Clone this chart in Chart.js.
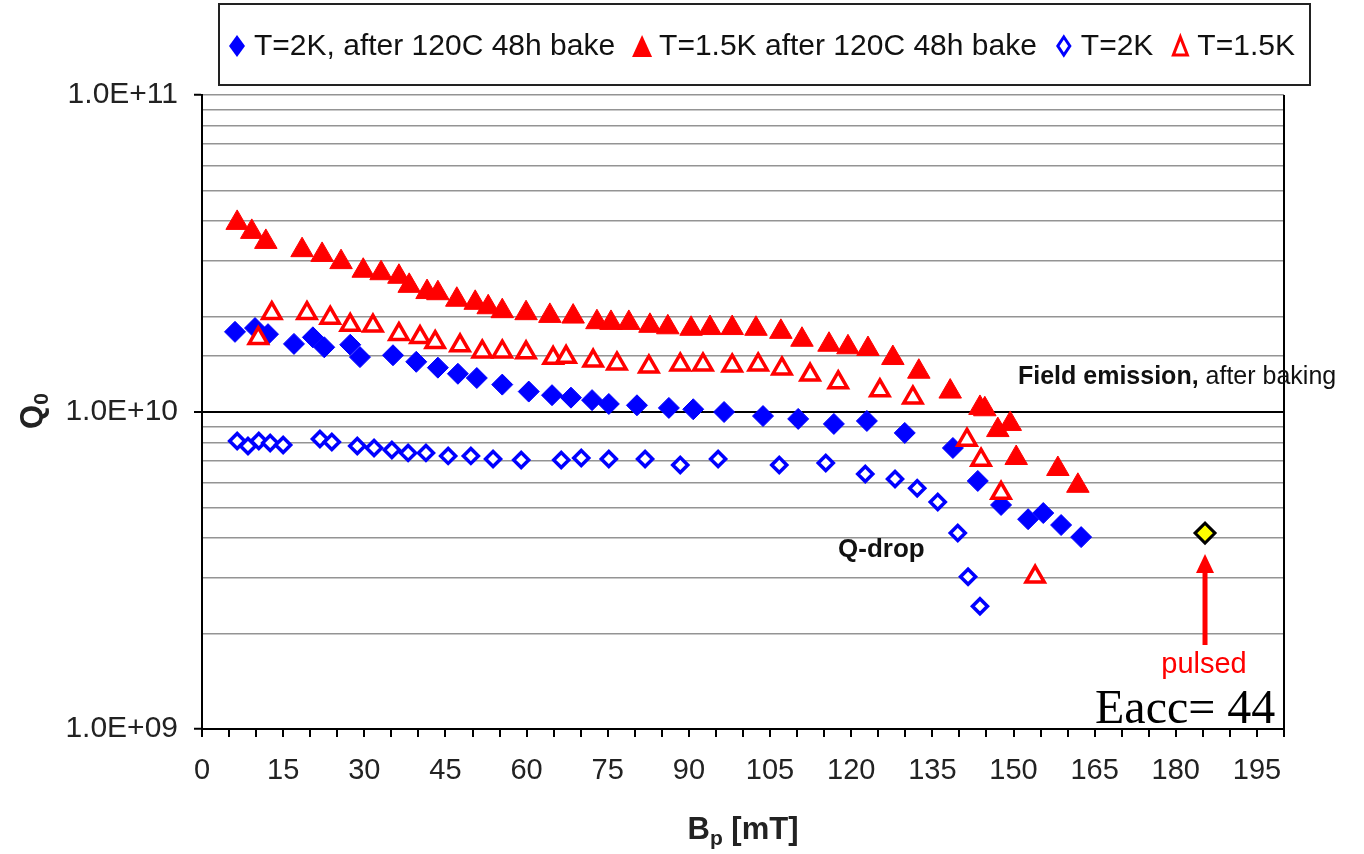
<!DOCTYPE html>
<html>
<head>
<meta charset="utf-8">
<script src="https://cdn.jsdelivr.net/npm/chart.js@4"></script>
<style>
    html, body { margin: 0; padding: 0; background: #fff; }
</style>
</head>
<body>
<canvas id="q0chart" width="1364" height="854"></canvas>
<script>
const seriesLabels = [
    "T=2K, after 120C 48h bake",
    "T=1.5K after 120C 48h bake",
    "T=2K",
    "T=1.5K",
];

// T=2K after bake (filled diamonds)
const bakedT2B = [6.1, 9.8, 12.2, 17.0, 20.5, 22.6, 27.4, 29.2, 35.3, 39.6, 43.6, 47.3, 50.8, 55.5, 60.4, 64.7, 68.2, 72.1,
    75.2, 80.4, 86.3, 90.8, 96.5, 103.7, 110.2, 116.8, 122.9, 129.9, 138.8, 143.4, 147.7, 152.7, 155.5, 158.8, 162.5];
const bakedT2Q = [1.79e10, 1.84e10, 1.76e10, 1.64e10, 1.72e10, 1.60e10, 1.63e10, 1.49e10, 1.51e10, 1.44e10, 1.38e10, 1.32e10,
    1.28e10, 1.22e10, 1.16e10, 1.13e10, 1.11e10, 1.09e10, 1.06e10, 1.05e10, 1.03e10, 1.02e10, 1.00e10, 9.71e9, 9.51e9,
    9.17e9, 9.37e9, 8.59e9, 7.70e9, 6.06e9, 5.09e9, 4.59e9, 4.80e9, 4.40e9, 4.03e9];

// T=1.5K after bake (filled triangles)
const bakedT15B = [6.5, 9.2, 11.8, 18.5, 22.2, 25.7, 29.8, 33.1, 36.4, 38.3, 41.6, 43.6, 47.1, 50.5, 52.9, 55.5, 59.9, 64.3,
    68.6, 73.0, 75.6, 78.9, 82.8, 86.1, 90.4, 93.9, 98.0, 102.4, 107.0, 110.9, 115.9, 119.4, 123.1, 127.7, 132.5, 138.3,
    143.8, 144.7, 147.1, 149.4, 150.5, 158.2, 161.9];
const bakedT15Q = [3.95e10, 3.70e10, 3.44e10, 3.24e10, 3.13e10, 2.97e10, 2.79e10, 2.74e10, 2.67e10, 2.50e10, 2.39e10,
    2.37e10, 2.26e10, 2.21e10, 2.14e10, 2.08e10, 2.05e10, 2.01e10, 2.00e10, 1.92e10, 1.91e10, 1.91e10, 1.87e10, 1.85e10,
    1.83e10, 1.84e10, 1.84e10, 1.83e10, 1.79e10, 1.69e10, 1.63e10, 1.60e10, 1.58e10, 1.48e10, 1.34e10, 1.16e10, 1.03e10,
    1.02e10, 8.77e9, 9.17e9, 7.16e9, 6.61e9, 5.85e9];

// T=2K before bake (open diamonds)
const plainT2B = [6.5, 8.5, 10.5, 12.6, 15.0, 21.8, 24.0, 28.7, 31.8, 35.1, 38.1, 41.4, 45.5, 49.7, 53.8, 59.0, 66.4, 70.1,
    75.2, 81.9, 88.4, 95.4, 106.7, 115.3, 122.6, 128.1, 132.2, 136.0, 139.7, 141.6, 143.8];
const plainT2Q = [8.10e9, 7.81e9, 8.10e9, 7.98e9, 7.87e9, 8.22e9, 8.04e9, 7.81e9, 7.70e9, 7.59e9, 7.43e9, 7.43e9, 7.27e9,
    7.27e9, 7.11e9, 7.06e9, 7.06e9, 7.16e9, 7.11e9, 7.11e9, 6.80e9, 7.11e9, 6.80e9, 6.90e9, 6.37e9, 6.15e9, 5.75e9, 5.20e9,
    4.15e9, 3.02e9, 2.44e9];

// T=1.5K before bake (open triangles)
const plainT15B = [10.4, 12.9, 19.4, 23.7, 27.4, 31.6, 36.4, 40.3, 43.1, 47.7, 51.8, 55.5, 59.9, 64.9, 67.3, 72.3, 76.7,
    82.6, 88.4, 92.6, 98.0, 102.8, 107.2, 112.4, 117.6, 125.3, 131.4, 141.4, 144.0, 147.7, 154.0];
const plainT15Q = [1.71e10, 2.05e10, 2.05e10, 1.98e10, 1.88e10, 1.87e10, 1.76e10, 1.72e10, 1.66e10, 1.62e10, 1.55e10,
    1.55e10, 1.54e10, 1.48e10, 1.49e10, 1.45e10, 1.42e10, 1.39e10, 1.41e10, 1.41e10, 1.40e10, 1.41e10, 1.37e10, 1.31e10,
    1.24e10, 1.17e10, 1.11e10, 8.16e9, 7.06e9, 5.55e9, 3.02e9];

// pulsed measurement
const pulsedB = [185.4];
const pulsedQ = [4.15e9];

const xTickLabels = [0, 15, 30, 45, 60, 75, 90, 105, 120, 135, 150, 165, 180, 195];
const yTickLabels = ["1.0E+09", "1.0E+10", "1.0E+11"];

const BLUE = "#0000ff";
const RED = "#ff0000";

function pts(xs, ys) {
    return xs.map((x, i) => ({ x: x, y: ys[i] }));
}

function isDecade(v) {
    const e = Math.round(Math.log10(v));
    return Math.abs(v - Math.pow(10, e)) < v * 1e-6;
}

// legend, titles and notes drawn on top
const extras = {
    id: "extras",
    afterDraw(chart) {
        const ctx = chart.ctx;
        const area = chart.chartArea;
        const xs = chart.scales.x;
        ctx.save();

        // plot right border
        ctx.strokeStyle = "#000";
        ctx.lineWidth = 2;
        ctx.beginPath();
        ctx.moveTo(area.right, area.top);
        ctx.lineTo(area.right, area.bottom);
        ctx.stroke();

        // legend box
        ctx.lineWidth = 2;
        ctx.strokeStyle = "#222";
        ctx.strokeRect(219, 4, 1091, 81);
        ctx.font = "30px 'Liberation Sans', Arial, sans-serif";
        ctx.textBaseline = "middle";
        const ly = 46;
        const markers = ["diamond", "triangle", "odiamond", "otriangle"];
        let mx = 237;
        seriesLabels.forEach((lab, i) => {
            drawLegendMarker(ctx, markers[i], mx, ly);
            ctx.fillStyle = "#111";
            ctx.textAlign = "left";
            ctx.fillText(lab, mx + 17, ly + 1);
            mx = mx + 17 + ctx.measureText(lab).width + 27;
        });

        // axis titles
        ctx.fillStyle = "#222";
        ctx.textBaseline = "alphabetic";
        ctx.font = "bold 31px 'Liberation Sans', Arial, sans-serif";
        const bW = ctx.measureText("B").width;
        const restW = ctx.measureText(" [mT]").width;
        ctx.font = "bold 21px 'Liberation Sans', Arial, sans-serif";
        const pW = ctx.measureText("p").width;
        const tx = (area.left + area.right) / 2 - (bW + pW + restW) / 2;
        const tyB = 839;
        ctx.textAlign = "left";
        ctx.font = "bold 31px 'Liberation Sans', Arial, sans-serif";
        ctx.fillText("B", tx, tyB);
        ctx.font = "bold 21px 'Liberation Sans', Arial, sans-serif";
        ctx.fillText("p", tx + bW, tyB + 6);
        ctx.font = "bold 31px 'Liberation Sans', Arial, sans-serif";
        ctx.fillText(" [mT]", tx + bW + pW, tyB);

        ctx.save();
        ctx.translate(42, 411);
        ctx.rotate(-Math.PI / 2);
        ctx.font = "bold 31px 'Liberation Sans', Arial, sans-serif";
        const qW = ctx.measureText("Q").width;
        ctx.font = "bold 21px 'Liberation Sans', Arial, sans-serif";
        const zW = ctx.measureText("0").width;
        const qx = -(qW + zW) / 2;
        ctx.font = "bold 31px 'Liberation Sans', Arial, sans-serif";
        ctx.fillText("Q", qx, 0);
        ctx.font = "bold 21px 'Liberation Sans', Arial, sans-serif";
        ctx.fillText("0", qx + qW, 6);
        ctx.restore();

        // notes
        ctx.fillStyle = "#111";
        ctx.font = "bold 25px 'Liberation Sans', Arial, sans-serif";
        ctx.fillText("Field emission,", 1018, 384);
        const feW = ctx.measureText("Field emission,").width;
        ctx.font = "25px 'Liberation Sans', Arial, sans-serif";
        ctx.fillText(" after baking", 1018 + feW, 384);

        ctx.font = "bold 26px 'Liberation Sans', Arial, sans-serif";
        ctx.fillText("Q-drop", 838, 557);

        // pulsed arrow
        const ax = xs.getPixelForValue(pulsedB[0]);
        ctx.strokeStyle = RED;
        ctx.fillStyle = RED;
        ctx.lineWidth = 5;
        ctx.beginPath();
        ctx.moveTo(ax, 645);
        ctx.lineTo(ax, 568);
        ctx.stroke();
        ctx.beginPath();
        ctx.moveTo(ax, 554);
        ctx.lineTo(ax + 9, 573);
        ctx.lineTo(ax - 9, 573);
        ctx.closePath();
        ctx.fill();
        ctx.font = "29px 'Liberation Sans', Arial, sans-serif";
        ctx.textAlign = "center";
        ctx.fillText("pulsed", ax - 1, 673);

        ctx.fillStyle = "#000";
        ctx.textAlign = "left";
        ctx.font = "48px 'Liberation Serif', 'Times New Roman', serif";
        ctx.fillText("Eacc= 44", 1095, 723);

        ctx.restore();
    }
};

function drawLegendMarker(ctx, kind, x, y) {
    ctx.save();
    ctx.lineJoin = "miter";
    if (kind === "diamond" || kind === "odiamond") {
        const w = kind === "diamond" ? 8 : 6;
        const h = kind === "diamond" ? 11 : 9;
        ctx.beginPath();
        ctx.moveTo(x, y - h);
        ctx.lineTo(x + w, y);
        ctx.lineTo(x, y + h);
        ctx.lineTo(x - w, y);
        ctx.closePath();
        if (kind === "diamond") {
            ctx.fillStyle = BLUE;
            ctx.fill();
        } else {
            ctx.strokeStyle = BLUE;
            ctx.lineWidth = 3;
            ctx.stroke();
        }
    } else {
        const w = kind === "triangle" ? 10 : 7;
        const h = kind === "triangle" ? 11 : 9;
        ctx.beginPath();
        ctx.moveTo(x, y - h);
        ctx.lineTo(x + w, y + h);
        ctx.lineTo(x - w, y + h);
        ctx.closePath();
        if (kind === "triangle") {
            ctx.fillStyle = RED;
            ctx.fill();
        } else {
            ctx.strokeStyle = RED;
            ctx.lineWidth = 3;
            ctx.stroke();
        }
    }
    ctx.restore();
}

Chart.defaults.font.family = "'Liberation Sans', Arial, sans-serif";
Chart.defaults.font.size = 30;
Chart.defaults.color = "#222";

new Chart(document.getElementById("q0chart").getContext("2d"), {
    type: "scatter",
    data: {
        datasets: [
            {
                label: "pulsed",
                data: pts(pulsedB, pulsedQ),
                pointStyle: "rectRot",
                radius: 10,
                backgroundColor: "#ffff00",
                borderColor: "#000",
                borderWidth: 3,
                order: 0,
            },
            {
                label: seriesLabels[3],
                data: pts(plainT15B, plainT15Q),
                pointStyle: "triangle",
                radius: 10.5,
                backgroundColor: "#fff",
                borderColor: RED,
                borderWidth: 3.5,
                order: 1,
            },
            {
                label: seriesLabels[2],
                data: pts(plainT2B, plainT2Q),
                pointStyle: "rectRot",
                radius: 7.5,
                backgroundColor: "#fff",
                borderColor: BLUE,
                borderWidth: 3.5,
                order: 2,
            },
            {
                label: seriesLabels[1],
                data: pts(bakedT15B, bakedT15Q),
                pointStyle: "triangle",
                radius: 13,
                backgroundColor: RED,
                borderColor: RED,
                borderWidth: 1,
                order: 3,
            },
            {
                label: seriesLabels[0],
                data: pts(bakedT2B, bakedT2Q),
                pointStyle: "rectRot",
                radius: 10.5,
                backgroundColor: BLUE,
                borderColor: BLUE,
                borderWidth: 1,
                order: 4,
            },
        ],
    },
    options: {
        responsive: false,
        animation: false,
        devicePixelRatio: 1,
        events: [],
        layout: { padding: { left: 0, right: 80, top: 95, bottom: 0 } },
        plugins: {
            legend: { display: false },
            tooltip: { enabled: false },
        },
        scales: {
            x: {
                type: "linear",
                min: 0,
                max: 200,
                afterFit: (s) => { s.height = 125; },
                border: { color: "#000", width: 2 },
                grid: { drawOnChartArea: false, drawTicks: true, tickLength: 8, color: "#000", lineWidth: 2 },
                ticks: {
                    stepSize: 5,
                    autoSkip: false,
                    maxRotation: 0,
                    padding: 17,
                    color: "#222",
                    font: { size: 29 },
                    callback: (v) => (xTickLabels.includes(v) ? String(v) : ""),
                },
            },
            y: {
                type: "logarithmic",
                min: 1e9,
                max: 1e11,
                afterFit: (s) => { s.width = 202; },
                border: { color: "#000", width: 2 },
                grid: {
                    color: (c) => (c.tick && c.tick.value === 1e10 ? "#000" : "#949494"),
                    lineWidth: (c) => (c.tick && c.tick.value === 1e10 ? 2 : 1.5),
                    tickColor: (c) => (c.tick && isDecade(c.tick.value) ? "#000" : "rgba(0,0,0,0)"),
                    tickLength: 8,
                    tickWidth: 2,
                },
                ticks: {
                    autoSkip: false,
                    padding: 16,
                    color: "#222",
                    callback: (v) => {
                        if (!isDecade(v)) return "";
                        const e = Math.round(Math.log10(v));
                        return yTickLabels.find((t) => t.endsWith("+" + String(e).padStart(2, "0"))) || "";
                    },
                },
            },
        },
    },
    plugins: [extras],
});
</script>
</body>
</html>
